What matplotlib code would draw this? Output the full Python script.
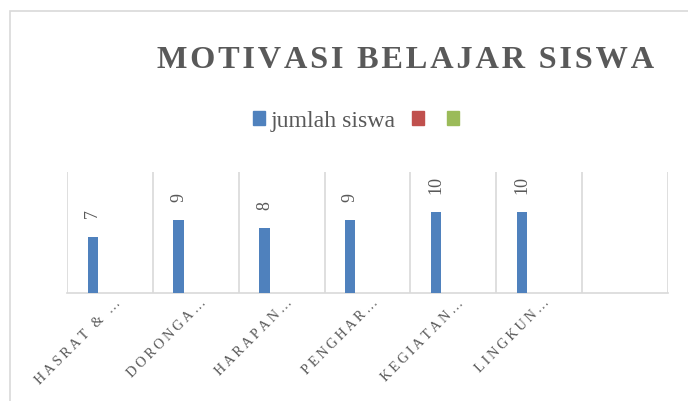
import matplotlib.pyplot as plt
from matplotlib.patches import Rectangle
import matplotlib.transforms as mtransforms

# Data
categories = ["HASRAT & …", "DORONGA…", "HARAPAN…", "PENGHAR…", "KEGIATAN…", "LINGKUN…"]
jumlah_siswa = [7, 9, 8, 9, 10, 10]
series_names = ["jumlah siswa", "", ""]
series_colors = ["#4f81bd", "#c0504d", "#9bbb59"]

text_color = "#595959"
grid_color = "#d9d9d9"
plt.rcParams["font.family"] = ["Liberation Serif", "DejaVu Serif"]


def spaced(s, sp="\u2009"):
    return sp.join(s)


fig = plt.figure(figsize=(6.88, 4.01), dpi=100)

# chart area border (runs off the right and bottom edges)
fig.patches.append(Rectangle((10 / 688, -0.2), 1.2, 0.9726 + 0.2,
                             transform=fig.transFigure, fill=False,
                             edgecolor=grid_color, linewidth=1.2))

ax = fig.add_axes([67 / 688, 1 - 293 / 401, 601 / 688, 121 / 401])

n_slots = len(categories) + 1
x = list(range(len(categories)))
bars = ax.bar([i - 0.2 for i in x], jumlah_siswa, width=0.12,
              color=series_colors[0], zorder=3)

for xi, v in zip(x, jumlah_siswa):
    ax.annotate(str(v), (xi - 0.2, v), xytext=(0, 13), textcoords="offset points",
                rotation=90, ha="center", va="bottom", fontsize=13, color=text_color)

ax.set_xlim(-0.5, n_slots - 0.5)
ax.set_ylim(0, 15)
for b in range(n_slots + 1):
    ax.axvline(b - 0.5, color=grid_color, linewidth=1.2, zorder=1)

for s in ["top", "right", "left"]:
    ax.spines[s].set_visible(False)
ax.spines["bottom"].set_color(grid_color)
ax.spines["bottom"].set_linewidth(1.2)
ax.set_yticks([])

ax.set_xticks(x)
ax.set_xticklabels([spaced(c) for c in categories], rotation=45, ha="right",
                   rotation_mode="anchor", fontsize=10.2, color=text_color)
ax.tick_params(axis="x", length=0, pad=2.5)
offset = mtransforms.ScaledTranslation(4 / 100, 0, fig.dpi_scale_trans)
for lbl in ax.get_xticklabels():
    lbl.set_transform(lbl.get_transform() + offset)

# title
fig.text(0.59, 1 - 68 / 401, spaced("MOTIVASI BELAJAR SISWA", "\u200a"),
         ha="center", va="baseline", fontsize=23.3, fontweight="bold", color=text_color)

# legend
handles = [Rectangle((0, 0), 1, 1, color=c) for c in series_colors]
fig.legend(handles, series_names, loc="center", bbox_to_anchor=(0.5215, 0.698),
           ncol=3, frameon=False, fontsize=17.2, labelcolor=text_color,
           handlelength=0.5, handleheight=0.5, handletextpad=0.25, columnspacing=0.7)

plt.savefig("out.png", dpi=100)
